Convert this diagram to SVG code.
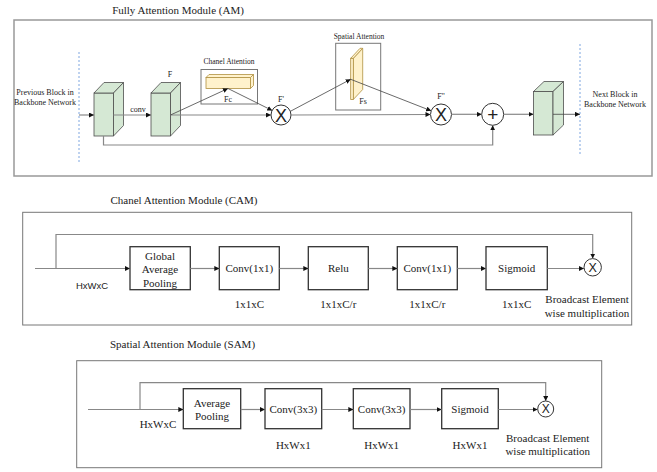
<svg xmlns="http://www.w3.org/2000/svg" width="657" height="472" viewBox="0 0 657 472" font-family="'Liberation Serif', serif">
<style>
.t{fill:#222;text-anchor:middle}
.s8{font-size:8px}
.s7{font-size:7.5px}
.s11{font-size:11px}
.title{font-size:11px}
.sans{fill:#222;text-anchor:middle}
.frame{fill:none;stroke:#999;stroke-width:1.5}
.frame2{fill:none;stroke:#777;stroke-width:1}
.dash{stroke:#7ea6e0;stroke-width:1;stroke-dasharray:2,2}
.cube{fill:#d5e8d4;stroke:#4d4d4d;stroke-width:0.8}
.yel{fill:#fff2cc;stroke:#b09040;stroke-width:0.8}
.ln{fill:none;stroke:#888;stroke-width:1.2}
.dl{fill:none;stroke:#444;stroke-width:0.8}
.box{fill:#fff;stroke:#333;stroke-width:1.3}
.abox{fill:none;stroke:#777;stroke-width:1}
.circ{fill:#fff;stroke:#333;stroke-width:1}
</style>
<defs>
<marker id="ah" markerWidth="5" markerHeight="5" refX="5" refY="2.5" orient="auto" markerUnits="userSpaceOnUse">
<path d="M0,0 L5,2.5 L0,5 z" fill="#111"/>
</marker>
</defs>

<!-- AM -->
<g id="am-title"><text class="t title" x="178" y="14">Fully Attention Module (AM)</text></g>
<g id="am-frame"><rect class="frame" x="14" y="20" width="638" height="156"/></g>
<g id="am-dashes">
<line class="dash" x1="79" y1="52" x2="79" y2="164"/>
<line class="dash" x1="580" y1="44" x2="580" y2="156"/>
</g>
<g id="prev-label"><text class="t s8" x="45" y="95">Previous Block in</text><text class="t s8" x="45" y="105">Backbone Network</text></g>
<g id="next-label"><text class="t s8" x="615" y="97">Next Block in</text><text class="t s8" x="615" y="107">Backbone Network</text></g>

<g id="cube1">
<rect class="cube" x="94" y="93" width="19.5" height="43"/>
<path class="cube" d="M94,93 L104,82.5 L123.5,82.5 L113.5,93 Z"/>
<path class="cube" d="M113.5,93 L123.5,82.5 L123.5,125.5 L113.5,136 Z"/>
</g>
<g id="cube2">
<rect class="cube" x="151" y="93" width="19.5" height="43"/>
<path class="cube" d="M151,93 L161,82.5 L180.5,82.5 L170.5,93 Z"/>
<path class="cube" d="M170.5,93 L180.5,82.5 L180.5,125.5 L170.5,136 Z"/>
<text class="t s8" x="170" y="77">F</text>
</g>
<g id="cube3">
<rect class="cube" x="533.5" y="91.5" width="19.5" height="43.5"/>
<path class="cube" d="M533.5,91.5 L544,81.5 L563.5,81.5 L553,91.5 Z"/>
<path class="cube" d="M553,91.5 L563.5,81.5 L563.5,125 L553,135 Z"/>
</g>

<g id="chanel-attention">
<rect class="abox" x="201" y="69.5" width="56.5" height="34.5"/>
<text class="t s7" x="229" y="63.5">Chanel Attention</text>
<rect class="yel" x="206" y="77.5" width="44.5" height="11"/>
<path class="yel" d="M206,77.5 L209,74.5 L253.5,74.5 L250.5,77.5 Z"/>
<path class="yel" d="M250.5,77.5 L253.5,74.5 L253.5,85.5 L250.5,88.5 Z"/>
<text class="t s8" x="228" y="102">Fc</text>
</g>

<g id="spatial-attention">
<rect class="abox" x="335.7" y="43.3" width="45" height="66.7"/>
<text class="t s7" x="359" y="38.5">Spatial Attention</text>
<path class="yel" d="M353.3,58.3 L362.7,48.3 L362.7,89.5 L353.3,99.5 Z"/>
<rect class="yel" x="350.7" y="58.3" width="2.6" height="41.2"/>
<path class="yel" d="M350.7,58.3 L360,48.3 L362.7,48.3 L353.3,58.3 Z"/>
<text class="t s8" x="363" y="104">Fs</text>
</g>

<g id="mul1">
<circle class="circ" cx="281" cy="115" r="10"/>
<text class="sans" font-family="'Liberation Sans', sans-serif" x="281" y="121.5" font-size="18">X</text>
<text class="t s8" x="281" y="102">F'</text>
</g>
<g id="mul2">
<circle class="circ" cx="441" cy="114.5" r="10.5"/>
<text class="sans" font-family="'Liberation Sans', sans-serif" x="441" y="121" font-size="18">X</text>
<text class="t s8" x="441" y="99">F''</text>
</g>
<g id="add">
<circle class="circ" cx="492.7" cy="114.3" r="11"/>
<text class="sans" font-family="'Liberation Sans', sans-serif" x="492.7" y="121" font-size="19">+</text>
</g>

<g id="am-connectors">
<line class="ln" x1="79" y1="115" x2="94" y2="115" marker-end="url(#ah)"/>
<line class="ln" x1="113.5" y1="115" x2="151" y2="115" marker-end="url(#ah)"/>
<line class="ln" x1="170.5" y1="115" x2="271" y2="115" marker-end="url(#ah)"/>
<line class="dl" x1="170.5" y1="115" x2="228" y2="88.5" marker-end="url(#ah)"/>
<line class="dl" x1="228" y1="88.5" x2="272.2" y2="110.5" marker-end="url(#ah)"/>
<line class="ln" x1="291" y1="115" x2="430.5" y2="114.5" marker-end="url(#ah)"/>
<line class="dl" x1="290" y1="111.5" x2="350.7" y2="79.3" marker-end="url(#ah)"/>
<line class="dl" x1="350.7" y1="79.3" x2="431.2" y2="110.8" marker-end="url(#ah)"/>
<line class="ln" x1="451.5" y1="114.3" x2="481.7" y2="114.3" marker-end="url(#ah)"/>
<line class="ln" x1="503.7" y1="114.3" x2="533.5" y2="114.3" marker-end="url(#ah)"/>
<line class="dl" x1="553" y1="114.3" x2="580" y2="114.3" marker-end="url(#ah)"/>
<path class="ln" d="M103.5,136 L103.5,145 L492.7,145 L492.7,125.3" marker-end="url(#ah)"/>
<text class="t s8" x="138" y="111.5">conv</text>
</g>

<!-- CAM -->
<g id="cam-title"><text class="t title" x="184" y="204">Chanel Attention Module (CAM)</text></g>
<g id="cam-frame"><rect class="frame2" x="22.7" y="212.3" width="609" height="112.7"/></g>
<g id="cam-gap"><rect class="box" x="130" y="246.7" width="60.3" height="43"/>
<text class="t s11" x="160" y="259.5">Global</text><text class="t s11" x="160" y="273">Average</text><text class="t s11" x="160" y="286.5">Pooling</text></g>
<g id="cam-conv1"><rect class="box" x="219.3" y="246.7" width="60" height="43"/>
<text class="t s11" x="249.3" y="272">Conv(1x1)</text><text class="t s11" x="249.3" y="308">1x1xC</text></g>
<g id="cam-relu"><rect class="box" x="308.3" y="246.7" width="60" height="43"/>
<text class="t s11" x="338.3" y="272">Relu</text><text class="t s11" x="338.3" y="308">1x1xC/r</text></g>
<g id="cam-conv2"><rect class="box" x="397.3" y="246.7" width="60" height="43"/>
<text class="t s11" x="427.3" y="272">Conv(1x1)</text><text class="t s11" x="427.3" y="308">1x1xC/r</text></g>
<g id="cam-sigmoid"><rect class="box" x="486" y="246.7" width="61.3" height="43"/>
<text class="t s11" x="516.7" y="272">Sigmoid</text><text class="t s11" x="516.7" y="308">1x1xC</text></g>
<g id="cam-mul"><circle class="circ" cx="592.7" cy="267.3" r="8.7"/>
<text class="sans" font-family="'Liberation Sans', sans-serif" x="592.7" y="271.8" font-size="12.5">X</text>
<text class="t s11" x="587" y="303">Broadcast Element</text><text class="t s11" x="587" y="316.5">wise multiplication</text></g>
<g id="cam-connectors">
<line class="ln" x1="35" y1="268.5" x2="130" y2="268.5" marker-end="url(#ah)"/>
<path class="ln" d="M56,268.5 L56,234.5 L592.7,234.5 L592.7,258.6" marker-end="url(#ah)"/>
<line class="ln" x1="190.3" y1="268.5" x2="219.3" y2="268.5" marker-end="url(#ah)"/>
<line class="ln" x1="279.3" y1="268.5" x2="308.3" y2="268.5" marker-end="url(#ah)"/>
<line class="ln" x1="368.3" y1="268.5" x2="397.3" y2="268.5" marker-end="url(#ah)"/>
<line class="ln" x1="457.3" y1="268.5" x2="486" y2="268.5" marker-end="url(#ah)"/>
<line class="ln" x1="547.3" y1="268.5" x2="584" y2="268.5" marker-end="url(#ah)"/>
<text class="sans" font-family="'Liberation Sans', sans-serif" x="92" y="288.5" font-size="9.5">HxWxC</text>
</g>

<!-- SAM -->
<g id="sam-title"><text class="t title" x="182.5" y="348">Spatial Attention Module (SAM)</text></g>
<g id="sam-frame"><rect class="frame2" x="76.7" y="360.7" width="525" height="107"/></g>
<g id="sam-avgpool"><rect class="box" x="183.3" y="388.7" width="57.4" height="40"/>
<text class="t s11" x="212" y="406.5">Average</text><text class="t s11" x="212" y="420">Pooling</text></g>
<g id="sam-conv1"><rect class="box" x="265" y="388.7" width="56.7" height="40"/>
<text class="t s11" x="293.3" y="413">Conv(3x3)</text><text class="t s11" x="293.3" y="449">HxWx1</text></g>
<g id="sam-conv2"><rect class="box" x="353.3" y="388.7" width="56.7" height="40"/>
<text class="t s11" x="381.7" y="413">Conv(3x3)</text><text class="t s11" x="381.7" y="449">HxWx1</text></g>
<g id="sam-sigmoid"><rect class="box" x="441.7" y="388.7" width="56.6" height="40"/>
<text class="t s11" x="470" y="413">Sigmoid</text><text class="t s11" x="470" y="449">HxWx1</text></g>
<g id="sam-mul"><circle class="circ" cx="545.7" cy="409" r="8"/>
<text class="sans" font-family="'Liberation Sans', sans-serif" x="545.7" y="413.3" font-size="12">X</text>
<text class="t s11" x="547.7" y="442">Broadcast Element</text><text class="t s11" x="547.7" y="454.5">wise multiplication</text></g>
<g id="sam-connectors">
<line class="ln" x1="88" y1="409.5" x2="183.3" y2="409.5" marker-end="url(#ah)"/>
<path class="ln" d="M140,409.5 L140,382.7 L545.7,382.7 L545.7,401" marker-end="url(#ah)"/>
<line class="ln" x1="240.7" y1="409.5" x2="265" y2="409.5" marker-end="url(#ah)"/>
<line class="ln" x1="321.7" y1="409.5" x2="353.3" y2="409.5" marker-end="url(#ah)"/>
<line class="ln" x1="410" y1="409.5" x2="441.7" y2="409.5" marker-end="url(#ah)"/>
<line class="ln" x1="498.3" y1="409.5" x2="537.7" y2="409.5" marker-end="url(#ah)"/>
<text class="t s11" x="158" y="428">HxWxC</text>
</g>
</svg>
